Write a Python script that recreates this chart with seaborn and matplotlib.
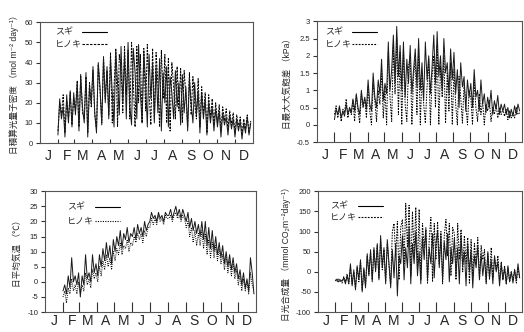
import numpy as np
import pandas as pd
import seaborn as sns
import matplotlib.pyplot as plt
from matplotlib.ticker import FuncFormatter

# sampling days (every 3rd day from Feb 1)
days = np.arange(32, 363, 3)
month_labels = ['J', 'F', 'M', 'A', 'M', 'J', 'J', 'A', 'S', 'O', 'N', 'D']
month_start = [1, 32, 60, 91, 121, 152, 182, 213, 244, 274, 305, 335]
series_names = ['スギ', 'ヒノキ']

# daily integrated PPFD (mol m-2 day-1)
ppfd_sugi = [4, 22, 12, 18, 3, 24, 10, 26, 8, 25,
             14, 30, 6, 33, 18, 10, 35, 3, 28, 20,
             38, 15, 5, 40, 28, 9, 43, 20, 38, 12,
             42, 25, 8, 46, 30, 14, 48, 20, 44, 12,
             50, 18, 9, 47, 35, 12, 49, 25, 10, 45,
             30, 8, 44, 22, 40, 10, 38, 15, 42, 6, 35,
             20, 38, 8, 33, 25, 12, 36, 18, 30, 9,
             34, 15, 28, 6, 32, 20, 10, 30, 14, 26,
             5, 25, 12, 22, 4, 20, 10, 18, 6, 17,
             8, 16, 3, 15, 9, 13, 4, 14, 7, 12,
             3, 12, 6, 11, 2, 10, 5, 13, 4, 10]
ppfd_hinoki = [6, 20, 14, 24, 5, 21, 12, 25, 9, 22,
               16, 31, 8, 34, 15, 12, 33, 5, 30, 18,
               36, 14, 7, 39, 26, 10, 42, 22, 36, 14,
               45, 10, 28, 47, 8, 44, 38, 15, 48, 24,
               46, 12, 50, 30, 8, 48, 20, 44, 10, 47,
               16, 49, 25, 9, 47, 12, 45, 30, 8, 46, 22,
               44, 10, 42, 6, 40, 28, 12, 38, 16, 37,
               10, 36, 24, 8, 35, 14, 33, 20, 12, 32,
               8, 28, 14, 25, 5, 24, 12, 22, 9, 20,
               10, 19, 6, 18, 11, 17, 7, 16, 9, 15,
               5, 14, 8, 13, 4, 12, 7, 14, 5, 11]

# daily maximum vapour pressure deficit (kPa)
vpd_sugi = [0.15, 0.45, 0.3, 0.55, 0.2, 0.4, 0.25, 0.6, 0.3, 0.5,
            0.35, 0.75, 0.4, 0.9, 0.5, 0.3, 1.0, 0.55, 0.8, 0.45,
            1.3, 0.6, 0.4, 1.5, 0.8, 0.5, 1.3, 0.9, 1.9, 0.7,
            1.2, 0.9, 2.4, 1.0, 1.6, 2.6, 1.2, 2.85, 1.4, 2.3,
            1.0, 2.4, 0.8, 1.9, 1.2, 2.3, 0.9, 1.6, 2.2, 1.1,
            2.5, 1.0, 1.8, 0.7, 2.4, 1.3, 2.0, 0.9, 1.7, 2.6, 1.2,
            2.7, 1.4, 2.0, 1.0, 2.5, 1.5, 1.8, 0.9, 2.2, 1.3,
            2.1, 0.9, 1.6, 0.5, 1.8, 1.1, 1.4, 0.4, 1.3, 0.8,
            1.2, 0.5, 1.6, 0.8, 1.0, 0.4, 1.3, 0.6, 0.9, 0.35,
            0.8, 0.5, 1.0, 0.3, 0.7, 0.45, 0.85, 0.3, 0.6, 0.4,
            0.6, 0.3, 0.5, 0.2, 0.45, 0.25, 0.55, 0.3, 0.6, 0.4]
vpd_hinoki = [0.3, 0.55, 0.2, 0.5, 0.1, 0.45, 0.35, 0.75, 0.2, 0.5,
              0.3, 0.7, 0.1, 0.85, 0.4, 0.05, 0.9, 0.5, 0.75, 0.2,
              1.1, 0.4, 0.0, 1.2, 0.7, 0.1, 1.0, 0.6, 1.6, 0.2,
              1.0, 0.0, 2.1, 0.8, 0.1, 2.3, 0.9, 2.5, 0.3, 2.1,
              0.0, 2.2, 0.6, 0.1, 1.7, 2.0, 0.0, 1.4, 1.9, 0.3,
              2.2, 0.0, 1.5, 0.6, 0.05, 1.1, 1.9, 0.0, 1.4, 2.0, 0.5,
              2.3, 0.0, 1.7, 0.8, 2.0, 0.05, 1.5, 0.4, 1.8, 0.0,
              1.6, 0.6, 0.0, 1.4, 0.8, 0.05, 1.2, 0.6, 0.0, 1.0,
              0.8, 0.0, 1.3, 0.5, 0.1, 0.9, 0.3, 0.7, 0.0, 0.6,
              0.4, 0.7, 0.1, 0.5, 0.3, 0.6, 0.2, 0.5, 0.3, 0.45,
              0.25, 0.45, 0.15, 0.4, 0.2, 0.35, 0.2, 0.5, 0.3, 0.35]

# daily mean air temperature (deg C)
temp_sugi = [-3, -1, -4, 2, -2, 8, 0, 2, -1, 3,
             -5, 2, -1, 9, 1, 3, 0, 9, 3, 6,
             2, 9, 5, 11, 7, 13, 8, 12, 6, 14,
             10, 15, 12, 17, 11, 16, 14, 18, 13, 16,
             15, 18, 14, 19, 16, 18, 15, 20, 17, 19,
             20, 23, 21, 22, 20, 23, 21, 22, 20, 23, 22,
             22, 24, 21, 23, 25, 22, 24, 21, 24, 22,
             20, 23, 18, 21, 17, 20, 16, 19, 15, 20,
             14, 20, 12, 18, 11, 17, 10, 15, 9, 13,
             8, 12, 6, 10, 5, 9, 4, 8, 3, 6,
             1, 4, -1, 3, -2, 1, -3, 8, 3, -4]
temp_hinoki = [-5, -3, -7, -2, -4, 1, -3, -1, -4, 0,
               -4, -1, -3, 3, -1, 1, -2, 4, 1, 3,
               0, 5, 2, 7, 4, 9, 5, 8, 4, 10,
               7, 11, 9, 13, 9, 12, 11, 14, 10, 13,
               12, 15, 13, 16, 14, 16, 13, 17, 15, 18,
               18, 21, 19, 21, 19, 22, 20, 21, 19, 22, 21,
               21, 22, 20, 22, 23, 21, 22, 20, 22, 21,
               18, 20, 15, 18, 13, 17, 12, 16, 12, 17,
               11, 16, 9, 14, 8, 13, 8, 12, 7, 11,
               6, 9, 4, 8, 3, 7, 2, 6, 1, 4,
               -1, 2, -3, 1, -3, 0, -4, 3, -1, -3]

# daily photosynthesis (mmol CO2 m-2 day-1)
ps_sugi = [-22, -18, -25, -20, -23, -15, -30, -10, -28, 20,
           -35, 5, -45, 15, -20, 30, -50, 10, -40, 45,
           -10, 55, -25, 60, 0, 70, -20, 90, 10, 60,
           -30, 80, 20, -40, 55, -15, 70, -60, 40, 20,
           90, -20, 60, 10, 110, -30, 70, 20, 100, -10,
           50, -30, 85, 30, 110, -20, 60, 20, 95, -15, 70,
           100, 10, 90, -20, 75, 30, 95, -25, 60, 20,
           85, -10, 60, -30, 90, 15, 50, -35, 70, 0,
           55, -40, 40, 10, 65, -20, 45, -10, 35, -25,
           50, -15, 30, -30, 40, 0, 25, -35, 20, -20,
           10, -30, 15, -25, 0, -28, 5, -22, 20, -15]
ps_hinoki = [-20, -25, -18, -22, -28, -12, -25, -5, -30, 10,
             -30, 0, -40, 10, -25, 25, -45, 5, -35, 40,
             -5, 50, -20, 55, 5, 65, -15, 80, 5, 55,
             -25, 70, 15, -30, 100, 120, 40, 125, -20, 110,
             130, 20, 170, 60, 165, -10, 150, 40, 160, 10,
             155, -20, 120, 60, 105, -30, 80, 135, -25, 120, 30,
             125, 20, 100, -30, 90, 130, 40, 120, -10, 110,
             95, -20, 120, 30, 105, 0, 90, 20, 85, -30,
             80, -10, 70, 20, 85, -20, 65, 30, 55, -30,
             45, -20, 60, -15, 35, 5, 40, -25, 25, -20,
             15, -30, 10, -25, 0, -20, 5, -28, 10, -18]

sns.set_theme(style='white')
plt.rcParams['font.family'] = ['Liberation Sans', 'Noto Sans CJK JP', 'DejaVu Sans']
plt.rcParams['axes.unicode_minus'] = False

fig = plt.figure(figsize=(5.24, 3.32), dpi=100)

# leg = (text x, line x0, line x1, row1 y, row2 y) in axes fractions
panels = [
    dict(rect=[0.076, 0.569, 0.407, 0.364], sugi=ppfd_sugi, hinoki=ppfd_hinoki,
         ylim=(0, 60), yticks=np.arange(0, 61, 10), ticklen=3, pad=4.5,
         ylabel='日積算光量子密度 （mol m⁻² day⁻¹）', dash=(0, (2.2, 1.2)),
         leg=(0.070, 0.197, 0.315, 0.917, 0.818)),
    dict(rect=[0.605, 0.572, 0.391, 0.364], sugi=vpd_sugi, hinoki=vpd_hinoki,
         ylim=(-0.5, 3), yticks=np.arange(-0.5, 3.01, 0.5), ticklen=7, pad=4.5,
         ylabel='日最大大気飽差 （kPa）', dash=(0, (1.6, 1.2)),
         leg=(0.039, 0.171, 0.293, 0.909, 0.810)),
    dict(rect=[0.086, 0.060, 0.403, 0.364], sugi=temp_sugi, hinoki=temp_hinoki,
         ylim=(-10, 30), yticks=np.arange(-10, 31, 5), ticklen=7, pad=1.5,
         ylabel='日平均気温 （℃）', dash=(0, (1.0, 1.2)),
         leg=(0.104, 0.237, 0.355, 0.868, 0.752)),
    dict(rect=[0.607, 0.060, 0.389, 0.364], sugi=ps_sugi, hinoki=ps_hinoki,
         ylim=(-100, 200), yticks=np.arange(-100, 201, 50), ticklen=7, pad=1.5,
         ylabel='日光合成量 （mmol CO₂m⁻²day⁻¹）', dash=(0, (1.6, 1.2)),
         leg=(0.059, 0.196, 0.319, 0.876, 0.785)),
]

for p in panels:
    ax = fig.add_axes(p['rect'])
    sns.lineplot(x=days, y=p['hinoki'], ax=ax, color='black', lw=0.7,
                 linestyle=p['dash'], estimator=None, sort=False)
    sns.lineplot(x=days, y=p['sugi'], ax=ax, color='#1a1a1a', lw=0.7,
                 estimator=None, sort=False)

    ax.set_xlim(1, 366)
    ax.set_ylim(*p['ylim'])
    ax.set_xticks(month_start[1:])
    ax.set_xticklabels([])
    ax.set_xticks([s + 15 for s in month_start], minor=True)
    ax.set_xticklabels(month_labels, minor=True, fontsize=10)
    ax.tick_params(axis='x', which='major', direction='in', length=p['ticklen'],
                   width=0.8, color='#333333', bottom=True)
    ax.tick_params(axis='x', which='minor', length=0, pad=p['pad'], bottom=True)
    ax.set_yticks(p['yticks'])
    ax.yaxis.set_major_formatter(FuncFormatter(lambda v, pos: f'{v:g}'))
    ax.tick_params(axis='y', direction='out', length=3, width=0.8,
                   color='#333333', labelsize=5.5, pad=2, left=True)
    for s in ax.spines.values():
        s.set_color('#555555')
        s.set_linewidth(0.8)
    ax.set_xlabel('')
    ax.set_ylabel(p['ylabel'], fontsize=6.2, labelpad=4)

    # legend: label text on the left, line sample on the right
    tx, x0, x1, y1, y2 = p['leg']
    for name, yy, ls in zip(series_names, (y1, y2), ('-', p['dash'])):
        ax.text(tx, yy, name, transform=ax.transAxes, fontsize=6.5,
                va='center', ha='left')
        ax.plot([x0, x1], [yy, yy], transform=ax.transAxes, color='black',
                lw=0.8, linestyle=ls)

fig.savefig('out.png', dpi=100)
